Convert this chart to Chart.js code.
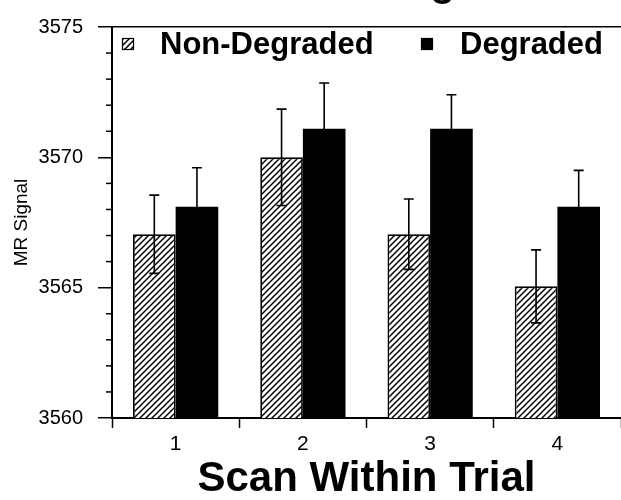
<!DOCTYPE html>
<html>
<head>
<meta charset="utf-8">
<script src="https://cdn.jsdelivr.net/npm/chart.js@4/dist/chart.umd.min.js"></script>
<style>
    body { margin: 0; background: #fff; }
    canvas { display: block; }
</style>
</head>
<body>
<canvas id="chart" width="621" height="500"></canvas>
<script>
// values
const categories = ['1', '2', '3', '4'];
const seriesNames = ['Non-Degraded', 'Degraded'];
const nonDegraded = [3567.05, 3570.0, 3567.05, 3565.05];
const degraded = [3568.1, 3571.1, 3571.1, 3568.1];
const nonDegradedErr = [1.5, 1.85, 1.35, 1.4];
const degradedErr = [1.5, 1.75, 1.3, 1.4];
const yMin = 3560;
const yMax = 3575;
const yStep = 5;
const titleText = 'Visual Cortex Timing';
const xTitle = 'Scan Within Trial';
const yTitle = 'MR Signal';

const FONT = '"Liberation Sans", Arial, sans-serif';
Chart.defaults.font.family = FONT;
Chart.defaults.color = '#000';

function makeHatch() {
    const c = document.createElement('canvas');
    c.width = 6;
    c.height = 6;
    const g = c.getContext('2d');
    g.fillStyle = '#fff';
    g.fillRect(0, 0, 6, 6);
    g.strokeStyle = '#000';
    g.lineWidth = 1.5;
    g.beginPath();
    g.moveTo(0, 6); g.lineTo(6, 0);
    g.moveTo(-1, 1); g.lineTo(1, -1);
    g.moveTo(5, 7); g.lineTo(7, 5);
    g.stroke();
    return g.createPattern(c, 'repeat');
}
const hatch = makeHatch();

const extras = {
    id: 'extras',
    afterDatasetsDraw(chart) {
        const ctx = chart.ctx;
        const y = chart.scales.y;
        const errs = [nonDegradedErr, degradedErr];
        ctx.save();
        ctx.strokeStyle = '#000';
        ctx.lineWidth = 1.6;
        chart.data.datasets.forEach((ds, i) => {
            chart.getDatasetMeta(i).data.forEach((bar, j) => {
                const v = ds.data[j];
                const top = y.getPixelForValue(v + errs[i][j]);
                const bot = y.getPixelForValue(v - errs[i][j]);
                ctx.beginPath();
                ctx.moveTo(bar.x, top); ctx.lineTo(bar.x, bot);
                ctx.moveTo(bar.x - 5, top); ctx.lineTo(bar.x + 5, top);
                ctx.moveTo(bar.x - 5, bot); ctx.lineTo(bar.x + 5, bot);
                ctx.stroke();
            });
        });
        ctx.restore();
    },
    afterDraw(chart) {
        const ctx = chart.ctx;
        const y = chart.scales.y;
        ctx.save();
        // minor ticks
        ctx.strokeStyle = '#000';
        ctx.lineWidth = 1.5;
        for (let v = yMin; v <= yMax; v++) {
            if (v % yStep === 0) continue;
            const py = y.getPixelForValue(v);
            ctx.beginPath();
            ctx.moveTo(y.right - 6, py);
            ctx.lineTo(y.right, py);
            ctx.stroke();
        }
        // legend inside the plot
        const legendPos = [{box: 122, text: 160}, {box: 421, text: 460}];
        ctx.font = 'bold 31px ' + FONT;
        ctx.textBaseline = 'alphabetic';
        chart.data.datasets.forEach((ds, i) => {
            const p = legendPos[i];
            ctx.fillStyle = ds.backgroundColor;
            ctx.fillRect(p.box, 38, 12, 12);
            ctx.strokeStyle = '#000';
            ctx.lineWidth = 1.2;
            ctx.strokeRect(p.box + 0.5, 38.5, 11, 11);
            ctx.fillStyle = '#000';
            ctx.fillText(ds.label, p.text, 54);
        });
        // title, cut off by the top edge
        ctx.font = 'bold 40px ' + FONT;
        ctx.textAlign = 'right';
        ctx.fillText(titleText, 455, -4);
        ctx.restore();
    }
};

new Chart(document.getElementById('chart'), {
    type: 'bar',
    data: {
        labels: categories,
        datasets: [{
            label: seriesNames[0],
            data: nonDegraded,
            backgroundColor: hatch,
            borderColor: '#000',
            borderWidth: 1.8,
        }, {
            label: seriesNames[1],
            data: degraded,
            backgroundColor: '#000',
            borderColor: '#000',
            borderWidth: 0,
        }]
    },
    options: {
        responsive: false,
        animation: false,
        layout: { padding: { top: 25, left: 0, right: 0, bottom: 0 } },
        datasets: { bar: { categoryPercentage: 0.67, barPercentage: 1.0 } },
        plugins: {
            legend: { display: false },
            tooltip: { enabled: false },
        },
        scales: {
            x: {
                ticks: { font: { size: 21 }, color: '#000', padding: 4 },
                grid: { drawOnChartArea: false, tickLength: 10, tickColor: '#000', tickWidth: 1.5, offset: true },
                border: { color: '#000', width: 2 },
                title: { display: true, text: xTitle, font: { size: 42, weight: 'bold', lineHeight: 1.0 }, color: '#000', padding: 0 },
                afterFit(s) { s.height = 82; },
            },
            y: {
                min: yMin,
                max: yMax,
                ticks: { stepSize: yStep, font: { size: 20 }, color: '#000', padding: 15, callback: v => String(v) },
                grid: {
                    color: ctx => (ctx.tick && ctx.tick.value === yMax) ? '#000' : 'rgba(0,0,0,0)',
                    lineWidth: 1.5,
                    tickColor: '#000',
                    tickWidth: 1.5,
                    tickLength: 14,
                },
                border: { color: '#000', width: 2 },
                title: { display: true, text: yTitle, font: { size: 19 }, color: '#000', padding: { top: 10, bottom: 0 } },
                afterFit(s) { s.width = 112; },
            }
        }
    },
    plugins: [extras]
});
</script>
</body>
</html>
